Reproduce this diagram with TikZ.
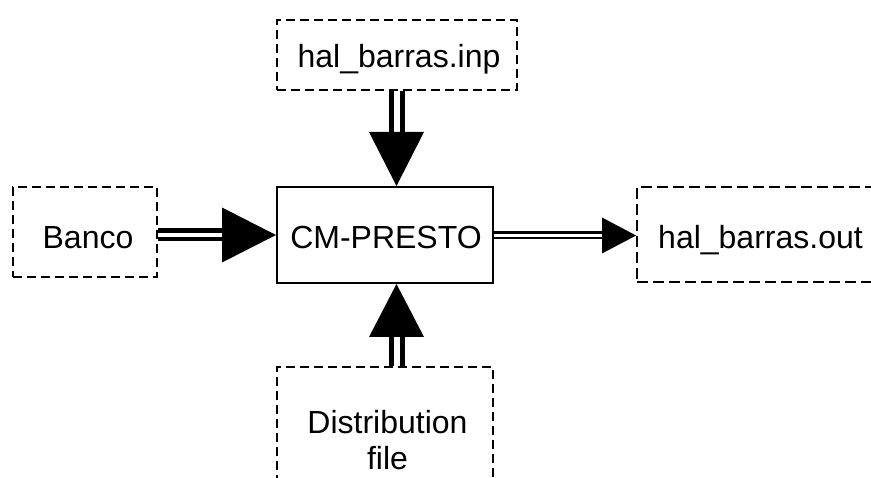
\documentclass[tikz,border=0pt]{standalone}
\usepackage{fontspec}
\setmainfont{Liberation Sans}
\begin{document}
\begin{tikzpicture}[x=1pt,y=-1pt,
  dbox/.style={draw, line width=1.8pt, dash pattern=on 9pt off 5pt, inner sep=0pt},
  sbox/.style={draw, line width=2pt, inner sep=0pt},
  lbl/.style={font=\fontsize{32}{36}\selectfont, inner sep=0pt, anchor=base},
  shaft/.style={double, line width=5pt, double distance=6pt},
  head/.style={fill=black}]
\path[use as bounding box, clip] (0,0) rectangle (871,478);
% boxes
\node[dbox, minimum width=240pt, minimum height=70pt] (inp) at (397,55) {};
\node[lbl] (inpt) at (399,68) {hal\_barras.inp};
\node[sbox, minimum width=216pt, minimum height=96pt] (main) at (385,235) {};
\node[lbl] (maint) at (386,249) {CM-PRESTO};
\node[dbox, minimum width=144pt, minimum height=90pt] (banco) at (85,232) {};
\node[lbl] (bancot) at (88,249) {Banco};
\node[dbox, dash pattern=on 11pt off 5pt, minimum width=240pt, minimum height=95pt] (out) at (757,234.5) {};
\node[lbl] (outt) at (760.5,249) {hal\_barras.out};
\node[dbox, minimum width=216pt, minimum height=146pt] (dist) at (385,440) {};
\node[font=\fontsize{32}{36}\selectfont, align=center, inner sep=0pt] (distt) at (387.5,439.6) {Distribution\\file};
% connectors
\coordinate (t1) at (396.5,132);
\draw[shaft] (inp.south -| t1) -- ([yshift=-1pt]t1);
\fill[head] ([xshift=-27.5pt]t1) -- ([xshift=27.5pt]t1) -- (main.north -| t1) -- cycle;
\coordinate (b1) at (222,235);
\draw[shaft, line width=4.5pt, double distance=4pt] (banco.east |- b1) -- ([xshift=1pt]b1);
\fill[head] ([yshift=27.5pt]b1) -- ([yshift=-27.5pt]b1) -- (main.west |- b1) -- cycle;
\coordinate (r1) at (602,235.5);
\draw[shaft, line width=2.5pt, double distance=3pt] (main.east |- r1) -- ([xshift=1pt]r1);
\fill[head] ([yshift=18pt]r1) -- ([yshift=-18pt]r1) -- (out.west |- r1) -- cycle;
\coordinate (d1) at (396.5,337);
\draw[shaft] (dist.north -| d1) -- ([yshift=1pt]d1);
\fill[head] ([xshift=-27.5pt]d1) -- ([xshift=27.5pt]d1) -- (main.south -| d1) -- cycle;
\end{tikzpicture}
\end{document}
